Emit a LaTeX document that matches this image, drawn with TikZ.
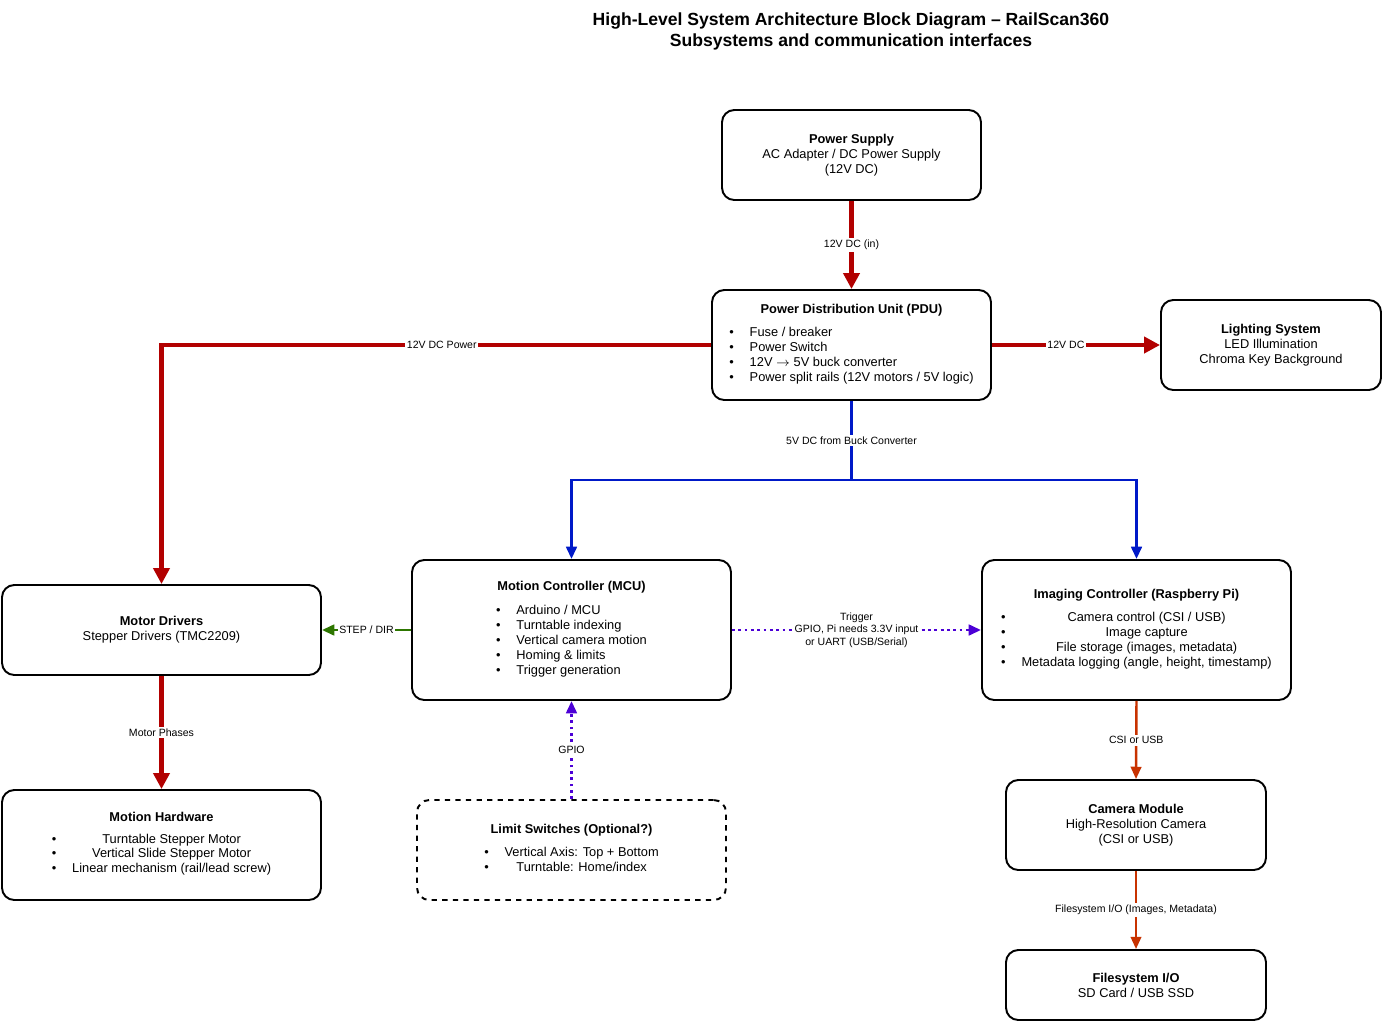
\documentclass[tikz,border=0pt]{standalone}
\usepackage{fontspec}
\setmainfont{Liberation Sans}
\usetikzlibrary{arrows.meta,positioning}
\definecolor{pwred}{HTML}{B20000}
\definecolor{lvblue}{HTML}{0019C8}
\definecolor{sigpurple}{HTML}{4C00D6}
\definecolor{stepgreen}{HTML}{2D7600}
\definecolor{camorange}{HTML}{C83200}
\tikzset{
  box/.style={draw, line width=1.1pt, rounded corners=7pt, align=center, font=\fontsize{7.3}{8.5}\selectfont},
  lbl/.style={fill=white, text=black, inner sep=1pt, font=\fontsize{6}{7}\selectfont, align=center},
  pline/.style={pwred, line width=2.3pt, -{Triangle[length=9pt,width=9pt]}},
  vline/.style={lvblue, line width=1.6pt, -{Triangle[length=7pt,width=6pt]}},
  sline/.style={sigpurple, line width=1.6pt, dotted, -{Triangle[length=7pt,width=6pt]}},
  cline/.style={camorange, line width=1.4pt, -{Triangle[length=7pt,width=6pt]}}
}
\newcommand{\bl}{\textbullet}
\begin{document}
\begin{tikzpicture}[x=0.02cm,y=-0.02cm]
  \useasboundingbox (0,0) rectangle (1383,1022);
  % Titel
  \node[font=\bfseries\fontsize{10}{12}\selectfont, align=center] (title) at (851,31)
    {High-Level System Architecture Block Diagram -- RailScan360\\Subsystems and communication interfaces};

  % Stromversorgung
  \node[box, minimum width=259*0.02cm, minimum height=90*0.02cm] (ps) at (851.5,155)
    {\textbf{Power Supply}\\AC Adapter / DC Power Supply\\(12V DC)};
  \node[box, minimum width=279*0.02cm, minimum height=110*0.02cm] (pdu) at (851.5,345)
    {\textbf{Power Distribution Unit (PDU)}\\[5pt]
     \begin{tabular}{@{}l@{\hspace{9pt}}l@{}}
     \bl & Fuse / breaker\\ \bl & Power Switch\\ \bl & 12V $\rightarrow$ 5V buck converter\\
     \bl & Power split rails (12V motors / 5V logic)
     \end{tabular}};
  \node[box, minimum width=220*0.02cm, minimum height=90*0.02cm] (light) at (1271,345)
    {\textbf{Lighting System}\\LED Illumination\\Chroma Key Background};

  % Steuerung
  \node[box, minimum width=319*0.02cm, minimum height=90*0.02cm] (drv) at (161.5,630)
    {\textbf{Motor Drivers}\\Stepper Drivers (TMC2209)};
  \node[box, minimum width=319*0.02cm, minimum height=140*0.02cm] (mcu) at (571.5,630)
    {\textbf{Motion Controller (MCU)}\\[5pt]
     \begin{tabular}{@{}l@{\hspace{9pt}}l@{}}
     \bl & Arduino / MCU\\ \bl & Turntable indexing\\ \bl & Vertical camera motion\\
     \bl & Homing \& limits\\ \bl & Trigger generation
     \end{tabular}};
  \node[box, minimum width=309*0.02cm, minimum height=140*0.02cm] (img) at (1136.5,630)
    {\textbf{Imaging Controller (Raspberry Pi)}\\[5pt]
     \begin{tabular}{@{}l@{\hspace{9pt}}c@{}}
     \bl & Camera control (CSI / USB)\\ \bl & Image capture\\ \bl & File storage (images, metadata)\\
     \bl & Metadata logging (angle, height, timestamp)
     \end{tabular}};

  % Hardware
  \node[box, minimum width=319*0.02cm, minimum height=110*0.02cm] (hw) at (161.5,845)
    {\textbf{Motion Hardware}\\[5pt]
     \begin{tabular}{@{}l@{\hspace{9pt}}c@{}}
     \bl & Turntable Stepper Motor\\ \bl & Vertical Slide Stepper Motor\\ \bl & Linear mechanism (rail/lead screw)
     \end{tabular}};
  \node[box, dashed, minimum width=309*0.02cm, minimum height=100*0.02cm] (lim) at (571.5,850)
    {\textbf{Limit Switches (Optional?)}\\[5pt]
     \begin{tabular}{@{}l@{\hspace{9pt}}c@{}}
     \bl & Vertical Axis: Top + Bottom\\ \bl & Turntable: Home/index
     \end{tabular}};
  \node[box, minimum width=260*0.02cm, minimum height=90*0.02cm] (cam) at (1136,825)
    {\textbf{Camera Module}\\High-Resolution Camera\\(CSI or USB)};
  \node[box, minimum width=260*0.02cm, minimum height=70*0.02cm] (fs) at (1136,985)
    {\textbf{Filesystem I/O}\\SD Card / USB SSD};

  \coordinate (pl) at (161.5,345);
  \coordinate (bj) at (851.5,480);
  \coordinate (bl) at (571.5,480);
  \coordinate (br) at (1136.5,480);

  % Verbindungen
  \draw[pline] (ps) -- node[lbl]{12V DC (in)} (pdu);
  \draw[pline] (pdu.west) -- node[lbl, pos=0.49]{12V DC Power} (pl) -- (drv.north);
  \draw[pline] (pdu.east) -- node[lbl, pos=0.44]{12V DC} (light.west);
  \draw[lvblue, line width=1.6pt] (pdu.south) -- node[lbl]{5V DC from Buck Converter} (bj);
  \draw[vline] (bj) -- (bl) -- (mcu.north);
  \draw[vline] (bj) -- (br) -- (img.north);
  \draw[stepgreen, line width=1.6pt, -{Triangle[length=7pt,width=6pt]}] (mcu.west) -- node[lbl]{STEP / DIR} (drv.east);
  \draw[sline] (mcu.east) -- node[lbl]{Trigger\\GPIO, Pi needs 3.3V input\\or UART (USB/Serial)} (img.west);
  \draw[sline] (lim.north) -- node[lbl]{GPIO} (mcu.south);
  \draw[pline] (drv.south) -- node[lbl]{Motor Phases} (hw.north);
  \draw[cline] (img.south) -- node[lbl]{CSI or USB} (cam.north);
  \draw[cline] (cam.south) -- node[lbl]{Filesystem I/O (Images, Metadata)} (fs.north);
\end{tikzpicture}
\end{document}
